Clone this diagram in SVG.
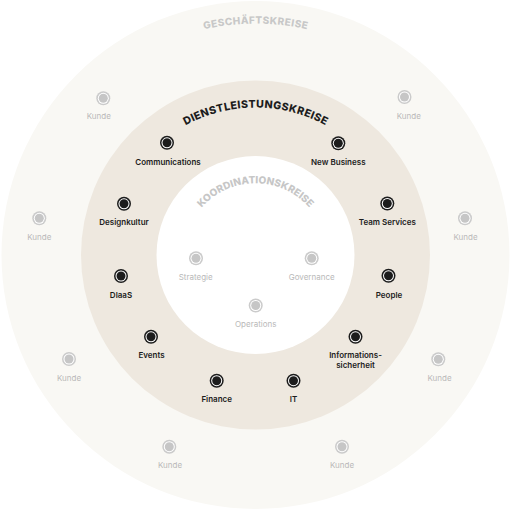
<svg xmlns="http://www.w3.org/2000/svg" xmlns:xlink="http://www.w3.org/1999/xlink" width="511" height="512" viewBox="0 0 511 512">
  <style>
    .lbl { font-family: Inter, "Noto Sans", "DejaVu Sans", sans-serif; font-size: 8px; font-weight: 600; fill: #1c1c1c; text-anchor: middle; }
    .glbl { font-family: Inter, "Noto Sans", "DejaVu Sans", sans-serif; font-size: 8px; font-weight: 400; fill: #b9b9b9; text-anchor: middle; }
    .ttl { font-family: Inter, "Noto Sans", "DejaVu Sans", sans-serif; font-weight: 800; text-anchor: middle; }
  </style>
  <defs>
    <g id="dotDark">
      <circle r="7" fill="#1c1c1c"/>
      <circle r="5.5" fill="#ffffff"/>
      <circle r="4.5" fill="#1c1c1c"/>
    </g>
    <g id="dotGrey">
      <circle r="7" fill="#cbcbcb"/>
      <circle r="5.5" fill="#ffffff"/>
      <circle r="4.5" fill="#c6c6c6"/>
    </g>
    <path id="arcOuter" d="M 24 255 A 231.5 231.5 0 0 1 487 255"/>
    <path id="arcMid" d="M 108 255 A 147.5 147.5 0 0 1 403 255"/>
    <path id="arcInner" d="M 183.8 255 A 71.7 71.7 0 0 1 327.2 255"/>
  </defs>

  <g id="rings">
    <circle cx="255.5" cy="255" r="254" fill="#f9f8f4"/>
    <circle cx="255.5" cy="255" r="174.5" fill="#eee8df"/>
    <circle cx="255.5" cy="255" r="99" fill="#ffffff"/>
  </g>

  <g id="titles">
    <text class="ttl" font-size="10" fill="#c8c8c8"><textPath href="#arcOuter" xlink:href="#arcOuter" startOffset="50%" textLength="104" lengthAdjust="spacing">GESCHÄFTSKREISE</textPath></text>
    <text class="ttl" font-size="10.6" fill="#1c1c1c"><textPath href="#arcMid" xlink:href="#arcMid" startOffset="50%" textLength="146" lengthAdjust="spacing">DIENSTLEISTUNGSKREISE</textPath></text>
    <text class="ttl" font-size="10" fill="#c6c6c6"><textPath href="#arcInner" xlink:href="#arcInner" startOffset="50%" textLength="122" lengthAdjust="spacing">KOORDINATIONSKREISE</textPath></text>
  </g>

  <g id="connectors"></g>

  <g id="node-communications"><use href="#dotDark" x="167" y="142.8"/><text class="lbl" x="168" y="164.5">Communications</text></g>
  <g id="node-newbusiness"><use href="#dotDark" x="338.3" y="143.3"/><text class="lbl" x="338.3" y="164.5">New Business</text></g>
  <g id="node-designkultur"><use href="#dotDark" x="124" y="203.8"/><text class="lbl" x="124" y="225.2">Designkultur</text></g>
  <g id="node-teamservices"><use href="#dotDark" x="387.3" y="203.5"/><text class="lbl" x="387.3" y="225">Team Services</text></g>
  <g id="node-dlaas"><use href="#dotDark" x="121" y="276"/><text class="lbl" x="121" y="297.6">DlaaS</text></g>
  <g id="node-people"><use href="#dotDark" x="388.5" y="275.8"/><text class="lbl" x="389" y="297.6">People</text></g>
  <g id="node-events"><use href="#dotDark" x="151" y="336.8"/><text class="lbl" x="151.5" y="358.3">Events</text></g>
  <g id="node-informationssicherheit"><use href="#dotDark" x="355.5" y="336.8"/><text class="lbl" x="355.5" y="358.3">Informations-</text><text class="lbl" x="355.5" y="367.6">sicherheit</text></g>
  <g id="node-finance"><use href="#dotDark" x="216.7" y="380.7"/><text class="lbl" x="216.7" y="401.8">Finance</text></g>
  <g id="node-it"><use href="#dotDark" x="293.5" y="380.7"/><text class="lbl" x="293.5" y="401.8">IT</text></g>

  <g id="node-strategie"><use href="#dotGrey" x="196" y="258.3"/><text class="glbl" x="195.7" y="279.8">Strategie</text></g>
  <g id="node-governance"><use href="#dotGrey" x="311.7" y="258.3"/><text class="glbl" x="311.7" y="279.6">Governance</text></g>
  <g id="node-operations"><use href="#dotGrey" x="255.7" y="305.5"/><text class="glbl" x="255.7" y="326.7">Operations</text></g>

  <g id="node-kunde-1"><use href="#dotGrey" x="103.3" y="98.3"/><text class="glbl" x="98.8" y="119.3">Kunde</text></g>
  <g id="node-kunde-2"><use href="#dotGrey" x="404.5" y="97"/><text class="glbl" x="408.8" y="118.5">Kunde</text></g>
  <g id="node-kunde-3"><use href="#dotGrey" x="39.3" y="218.3"/><text class="glbl" x="39.3" y="240">Kunde</text></g>
  <g id="node-kunde-4"><use href="#dotGrey" x="465" y="218.3"/><text class="glbl" x="465.5" y="240">Kunde</text></g>
  <g id="node-kunde-5"><use href="#dotGrey" x="69" y="359"/><text class="glbl" x="69" y="380.7">Kunde</text></g>
  <g id="node-kunde-6"><use href="#dotGrey" x="438.3" y="359.3"/><text class="glbl" x="439.5" y="380.7">Kunde</text></g>
  <g id="node-kunde-7"><use href="#dotGrey" x="169.3" y="446.7"/><text class="glbl" x="170" y="467.7">Kunde</text></g>
  <g id="node-kunde-8"><use href="#dotGrey" x="342" y="446.7"/><text class="glbl" x="342" y="467.7">Kunde</text></g>
</svg>
